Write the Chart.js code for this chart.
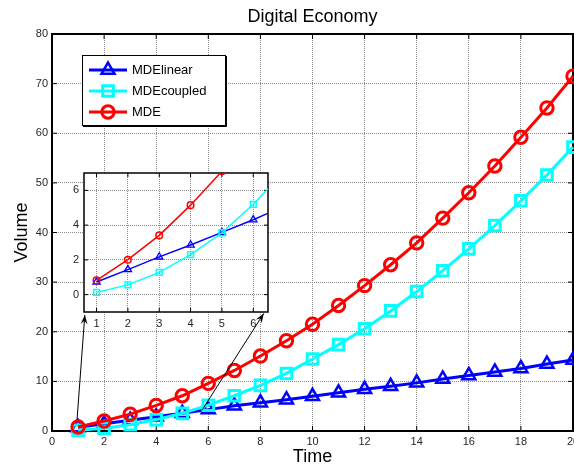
<!DOCTYPE html>
<html>
<head>
<meta charset="utf-8">
<script src="https://cdn.jsdelivr.net/npm/chart.js@4.4.1/dist/chart.umd.min.js"></script>
<style>
  html, body { margin: 0; padding: 0; background: #fff; overflow: hidden; }
  #wrap { position: relative; width: 574px; height: 469px; }
  #main { position: absolute; left: 0; top: 0; }
  #inset { position: absolute; left: 60px; top: 165px; }
</style>
</head>
<body>
<div id="wrap">
  <canvas id="main" width="574" height="469"></canvas>
  <canvas id="inset" width="214" height="172"></canvas>
</div>
<script>
// values
var timePoints = [1, 2, 3, 4, 5, 6, 7, 8, 9, 10, 11, 12, 13, 14, 15, 16, 17, 18, 19, 20];
var mdeLinear = [0.73, 1.44, 2.17, 2.86, 3.58, 4.31, 5.1, 5.7, 6.3, 7.0, 7.7, 8.4, 9.0, 9.7, 10.5, 11.2, 11.9, 12.6, 13.5, 14.3];
var mdeCoupled = [0.13, 0.56, 1.28, 2.3, 3.56, 5.2, 7.1, 9.2, 11.6, 14.5, 17.4, 20.6, 24.2, 28.1, 32.3, 36.7, 41.4, 46.4, 51.6, 57.2];
var mde = [0.82, 2.01, 3.41, 5.15, 7.1, 9.6, 12.2, 15.1, 18.2, 21.5, 25.3, 29.3, 33.5, 37.9, 42.9, 48.0, 53.4, 59.2, 65.1, 71.5];
var seriesNames = ['MDElinear', 'MDEcoupled', 'MDE'];

var mainXTicks = [0, 2, 4, 6, 8, 10, 12, 14, 16, 18, 20];
var mainYTicks = [0, 10, 20, 30, 40, 50, 60, 70, 80];
var insetXTicks = [1, 2, 3, 4, 5, 6];
var insetYTicks = [0, 2, 4, 6];

// arrows from the main plot up to the inset corners (x0, y0, x1, y1 in main axis units)
var zoomArrows = [[0.96, 2.2, 1.26, 23.4], [5.76, 4.2, 8.13, 23.7]];

Chart.defaults.font.family = "Arial, 'Liberation Sans', Helvetica, sans-serif";
Chart.defaults.color = '#262626';

function toPoints(ys) {
  return timePoints.map(function (t, i) { return { x: t, y: ys[i] }; });
}

function fixedTicks(list) {
  return function (scale) {
    scale.ticks = list.map(function (v) { return { value: v }; });
  };
}

// box around the plot area with little inward ticks on all four sides
var framePlugin = {
  id: 'frame',
  beforeDatasetsDraw: function (chart, args, opts) {
    var a = chart.chartArea, ctx = chart.ctx;
    var xs = chart.scales.x, ys = chart.scales.y;
    ctx.save();
    ctx.strokeStyle = '#000';
    ctx.lineWidth = 1;
    ctx.beginPath();
    xs.ticks.forEach(function (t) {
      var px = xs.getPixelForValue(t.value);
      ctx.moveTo(px, a.bottom); ctx.lineTo(px, a.bottom - opts.tick);
      ctx.moveTo(px, a.top); ctx.lineTo(px, a.top + opts.tick);
    });
    ys.ticks.forEach(function (t) {
      var py = ys.getPixelForValue(t.value);
      ctx.moveTo(a.left, py); ctx.lineTo(a.left + opts.tick, py);
      ctx.moveTo(a.right, py); ctx.lineTo(a.right - opts.tick, py);
    });
    ctx.stroke();
    ctx.lineWidth = opts.width;
    ctx.strokeRect(a.left, a.top, a.right - a.left, a.bottom - a.top);
    ctx.restore();
  }
};

var arrowPlugin = {
  id: 'zoomArrows',
  afterDatasetsDraw: function (chart) {
    var ctx = chart.ctx, xs = chart.scales.x, ys = chart.scales.y;
    ctx.save();
    ctx.strokeStyle = '#000';
    ctx.fillStyle = '#000';
    ctx.lineWidth = 1;
    zoomArrows.forEach(function (ar) {
      var x0 = xs.getPixelForValue(ar[0]), y0 = ys.getPixelForValue(ar[1]);
      var x1 = xs.getPixelForValue(ar[2]), y1 = ys.getPixelForValue(ar[3]);
      var ang = Math.atan2(y1 - y0, x1 - x0);
      ctx.beginPath();
      ctx.moveTo(x0, y0); ctx.lineTo(x1, y1);
      ctx.stroke();
      // head
      ctx.beginPath();
      ctx.moveTo(x1, y1);
      ctx.lineTo(x1 - 10 * Math.cos(ang - 0.35), y1 - 10 * Math.sin(ang - 0.35));
      ctx.lineTo(x1 - 6 * Math.cos(ang), y1 - 6 * Math.sin(ang));
      ctx.lineTo(x1 - 10 * Math.cos(ang + 0.35), y1 - 10 * Math.sin(ang + 0.35));
      ctx.closePath();
      ctx.fill();
    });
    ctx.restore();
  }
};

// legend in a box, line + marker like the plotted series
var boxLegendPlugin = {
  id: 'boxLegend',
  afterDraw: function (chart, args, opts) {
    var ctx = chart.ctx;
    ctx.save();
    ctx.fillStyle = '#fff';
    ctx.fillRect(opts.left, opts.top, opts.width, opts.height);
    ctx.strokeStyle = '#000';
    ctx.lineWidth = 1;
    ctx.strokeRect(opts.left + 0.5, opts.top + 0.5, opts.width, opts.height);
    ctx.beginPath();
    ctx.moveTo(opts.left + opts.width + 1.5, opts.top + 1);
    ctx.lineTo(opts.left + opts.width + 1.5, opts.top + opts.height + 1.5);
    ctx.lineTo(opts.left + 1, opts.top + opts.height + 1.5);
    ctx.stroke();
    chart.data.datasets.forEach(function (ds, i) {
      var y = opts.top + 15 + i * 21;
      var x0 = opts.left + 7, x1 = opts.left + 45, xm = (x0 + x1) / 2;
      ctx.strokeStyle = ds.borderColor;
      ctx.lineWidth = ds.borderWidth;
      ctx.beginPath();
      ctx.moveTo(x0, y); ctx.lineTo(x1, y);
      ctx.stroke();
      ctx.fillStyle = 'rgba(0,0,0,0)';
      ctx.lineWidth = ds.pointBorderWidth;
      Chart.helpers.drawPoint(ctx, {
        pointStyle: ds.pointStyle, rotation: 0,
        radius: ds.pointRadius, borderWidth: ds.pointBorderWidth
      }, xm, y);
      ctx.fillStyle = '#000';
      ctx.font = "13px Arial, 'Liberation Sans', sans-serif";
      ctx.textBaseline = 'middle';
      ctx.fillText(seriesNames[i], opts.left + 50, y);
    });
    ctx.restore();
  }
};

var areaFillPlugin = {
  id: 'areaFill',
  beforeDraw: function (chart) {
    var a = chart.chartArea, ctx = chart.ctx;
    ctx.save();
    ctx.fillStyle = '#fff';
    ctx.fillRect(a.left, a.top, a.right - a.left, a.bottom - a.top);
    ctx.restore();
  }
};

function makeSets(big) {
  var lw = big ? 3 : 1.5;
  return [
    {
      label: seriesNames[0], data: toPoints(mdeLinear), borderColor: '#0000ff',
      borderWidth: lw, pointStyle: 'triangle', pointRadius: big ? 7.5 : 4.2,
      pointBorderWidth: big ? 2.5 : 1.3, pointBackgroundColor: 'rgba(0,0,0,0)',
      pointBorderColor: '#0000ff', order: 3
    },
    {
      label: seriesNames[1], data: toPoints(mdeCoupled), borderColor: '#00ffff',
      borderWidth: lw, pointStyle: 'rect', pointRadius: big ? 7.5 : 4.1,
      pointBorderWidth: big ? 3 : 1.5, pointBackgroundColor: 'rgba(0,0,0,0)',
      pointBorderColor: '#00ffff', order: 2
    },
    {
      label: seriesNames[2], data: toPoints(mde), borderColor: '#ff0000',
      borderWidth: lw, pointStyle: 'circle', pointRadius: big ? 6.2 : 3.3,
      pointBorderWidth: big ? 3 : 1.5, pointBackgroundColor: 'rgba(0,0,0,0)',
      pointBorderColor: '#ff0000', order: 1
    }
  ].map(function (d) {
    d.fill = false;
    d.tension = 0;
    d.pointHoverRadius = d.pointRadius;
    if (big) d.clip = false;
    return d;
  });
}

var gridStyle = { color: '#8a8a8a', lineWidth: 1, drawTicks: false };

var mainChart = new Chart(document.getElementById('main'), {
  type: 'line',
  data: { datasets: makeSets(true) },
  plugins: [framePlugin, arrowPlugin, boxLegendPlugin],
  options: {
    responsive: false,
    animation: false,
    events: [],
    layout: { autoPadding: false, padding: { left: 0, right: 1, top: 0, bottom: 0 } },
    plugins: {
      legend: { display: false },
      tooltip: { enabled: false },
      frame: { width: 2, tick: 5 },
      boxLegend: { left: 82, top: 55, width: 143, height: 70 }
    },
    scales: {
      x: {
        type: 'linear', position: 'bottom', min: 0, max: 20,
        afterBuildTicks: fixedTicks(mainXTicks),
        afterFit: function (s) { s.height = 38; s.paddingLeft = 0; s.paddingRight = 0; },
        grid: gridStyle,
        border: { display: false, dash: [1, 1] },
        ticks: { font: { size: 11 }, padding: 4, maxRotation: 0, autoSkip: false },
        title: { display: true, text: 'Time', color: '#000', font: { size: 18 }, padding: { top: 0, bottom: 1 } }
      },
      xTop: {
        type: 'linear', position: 'top', min: 0, max: 20,
        afterFit: function (s) { s.height = 34; s.paddingLeft = 0; s.paddingRight = 0; },
        grid: { display: false },
        border: { display: false },
        ticks: { display: false },
        title: { display: true, text: 'Digital Economy', color: '#000', font: { size: 18 }, padding: { top: 6, bottom: 0 } }
      },
      y: {
        type: 'linear', position: 'left', min: 0, max: 80,
        afterBuildTicks: fixedTicks(mainYTicks),
        afterFit: function (s) { s.width = 52; s.paddingTop = 0; s.paddingBottom = 0; },
        grid: gridStyle,
        border: { display: false, dash: [1, 1] },
        ticks: { font: { size: 11 }, padding: 4 },
        title: { display: true, text: 'Volume', color: '#000', font: { size: 18 }, padding: { top: 11, bottom: 0 } }
      }
    }
  }
});

var insetChart = new Chart(document.getElementById('inset'), {
  type: 'line',
  data: { datasets: makeSets(false) },
  plugins: [areaFillPlugin, framePlugin],
  options: {
    responsive: false,
    animation: false,
    events: [],
    layout: { autoPadding: false, padding: { left: 0, right: 6, top: 8, bottom: 0 } },
    plugins: {
      legend: { display: false },
      tooltip: { enabled: false },
      frame: { width: 1.5, tick: 4 }
    },
    scales: {
      x: {
        type: 'linear', min: 0.6, max: 6.47,
        afterBuildTicks: fixedTicks(insetXTicks),
        afterFit: function (s) { s.height = 25; s.paddingLeft = 0; s.paddingRight = 0; },
        grid: gridStyle,
        border: { display: false, dash: [1, 1] },
        ticks: { font: { size: 11 }, padding: 5, maxRotation: 0, autoSkip: false }
      },
      y: {
        type: 'linear', min: -1, max: 7,
        afterBuildTicks: fixedTicks(insetYTicks),
        afterFit: function (s) { s.width = 24; s.paddingTop = 0; s.paddingBottom = 0; },
        grid: gridStyle,
        border: { display: false, dash: [1, 1] },
        ticks: { font: { size: 11 }, padding: 5 }
      }
    }
  }
});
</script>
</body>
</html>
